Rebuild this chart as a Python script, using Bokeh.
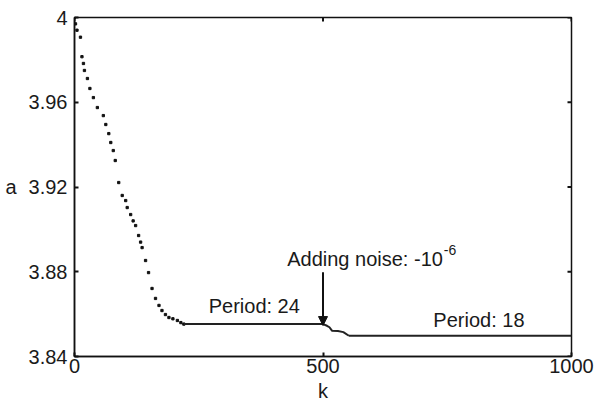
from bokeh.plotting import figure
from bokeh.models import FixedTicker, Arrow, NormalHead, Range1d, Label
from bokeh.embed import file_html
from bokeh.resources import INLINE

# ---- data ----
k_desc = [0, 2, 5, 12, 15, 18, 20, 26, 31, 38, 46, 58, 63, 69, 73, 78, 82, 89, 96, 103,
          106, 113, 118, 123, 129, 133, 136, 143, 149, 156, 163, 170, 176, 183, 190, 198, 207, 214, 220]
a_desc = [4.0, 3.997, 3.994, 3.9907, 3.9815, 3.9783, 3.975, 3.9712, 3.9665, 3.9622, 3.9575,
          3.9537, 3.9495, 3.9452, 3.941, 3.9372, 3.9325, 3.9221, 3.916, 3.9136,
          3.9103, 3.907, 3.904, 3.9018, 3.8971, 3.894, 3.8914, 3.8853, 3.8796, 3.8721,
          3.8674, 3.8641, 3.8617, 3.8598, 3.8584, 3.8578, 3.857, 3.856, 3.8553]
k_p24 = [220, 500]
a_p24 = [3.8553, 3.8553]
k_trans = [500, 508, 513, 518, 530, 541, 552]
a_trans = [3.8553, 3.8545, 3.8538, 3.8522, 3.852, 3.8515, 3.8498]
k_p18 = [552, 1000]
a_p18 = [3.8498, 3.8498]

x_ticks = [0, 500, 1000]
y_ticks = [3.84, 3.88, 3.92, 3.96, 4.0]
y_labels = {3.84: "3.84", 3.88: "3.88", 3.92: "3.92", 3.96: "3.96", 4.0: "4"}
noise_k = 500
noise_a_top = 3.8798
noise_a_tip = 3.8546

FONT = "Liberation Sans"
TXT = "#1a1a1a"
X0, X1 = 0, 1000
Y0, Y1 = 3.84, 4.0
FRAME_W, FRAME_H = 497, 339
TICK_PX = 4

p = figure(width=597, height=406, output_backend="svg", toolbar_location=None,
           x_range=Range1d(X0, X1), y_range=Range1d(Y0, Y1),
           min_border_left=74, min_border_right=26, min_border_top=17, min_border_bottom=50,
           x_axis_label="k", y_axis_label="a")
p.grid.visible = False
p.background_fill_color = "white"
p.border_fill_color = "white"
p.outline_line_color = "#111111"
p.outline_line_width = 1.5

for ax in (p.xaxis[0], p.yaxis[0]):
    ax.major_tick_in = TICK_PX
    ax.major_tick_out = 0
    ax.minor_tick_line_color = None
    ax.axis_line_width = 1.5
    ax.axis_line_color = "#111111"
    ax.major_tick_line_width = 2
    ax.major_tick_line_color = "#111111"
    ax.major_label_text_font = FONT
    ax.major_label_text_font_size = "20px"
    ax.major_label_text_color = TXT
    ax.axis_label_text_font = FONT
    ax.axis_label_text_font_size = "20px"
    ax.axis_label_text_font_style = "normal"
    ax.axis_label_text_color = TXT

p.xaxis[0].ticker = FixedTicker(ticks=x_ticks)
p.xaxis[0].major_label_standoff = 2
p.xaxis[0].axis_label_standoff = 4
p.yaxis[0].ticker = FixedTicker(ticks=y_ticks)
p.yaxis[0].major_label_overrides = y_labels
p.yaxis[0].major_label_standoff = 7
p.yaxis[0].axis_label_standoff = 9
p.yaxis[0].axis_label_orientation = "horizontal"

# inward ticks on the top and right edges of the box
dy = TICK_PX * (Y1 - Y0) / FRAME_H
dx = TICK_PX * (X1 - X0) / FRAME_W
p.segment(x0=x_ticks, y0=[Y1] * len(x_ticks), x1=x_ticks, y1=[Y1 - dy] * len(x_ticks),
          line_width=2, color="#111111")
p.segment(x0=[X1] * len(y_ticks), y0=y_ticks, x1=[X1 - dx] * len(y_ticks), y1=y_ticks,
          line_width=2, color="#111111")

# data
p.scatter(k_desc, a_desc, marker="square", size=2.3, color="#111111")
p.line(k_p24, a_p24, line_width=2, color="#222222")
p.line(k_trans, a_trans, line_width=2, color="#222222")
p.line(k_p18, a_p18, line_width=2, color="#222222")

# annotations
p.add_layout(Arrow(end=NormalHead(size=9, fill_color="#111111", line_color="#111111"),
                   x_start=noise_k, y_start=noise_a_top, x_end=noise_k, y_end=noise_a_tip,
                   line_width=2, line_color="#111111"))
p.add_layout(Label(x=270, y=3.8636, text="Period: 24", text_font=FONT,
                   text_font_size="20px", text_color=TXT, text_baseline="alphabetic"))
p.add_layout(Label(x=722, y=3.8571, text="Period: 18", text_font=FONT,
                   text_font_size="20px", text_color=TXT, text_baseline="alphabetic"))
p.add_layout(Label(x=428, y=3.8862, text="Adding noise: -10", text_font=FONT,
                   text_font_size="20px", text_color=TXT, text_baseline="alphabetic"))
p.add_layout(Label(x=743, y=3.8905, text="-6", text_font=FONT,
                   text_font_size="14px", text_color=TXT, text_baseline="alphabetic"))

open("out.html", "w").write(file_html(p, INLINE))
